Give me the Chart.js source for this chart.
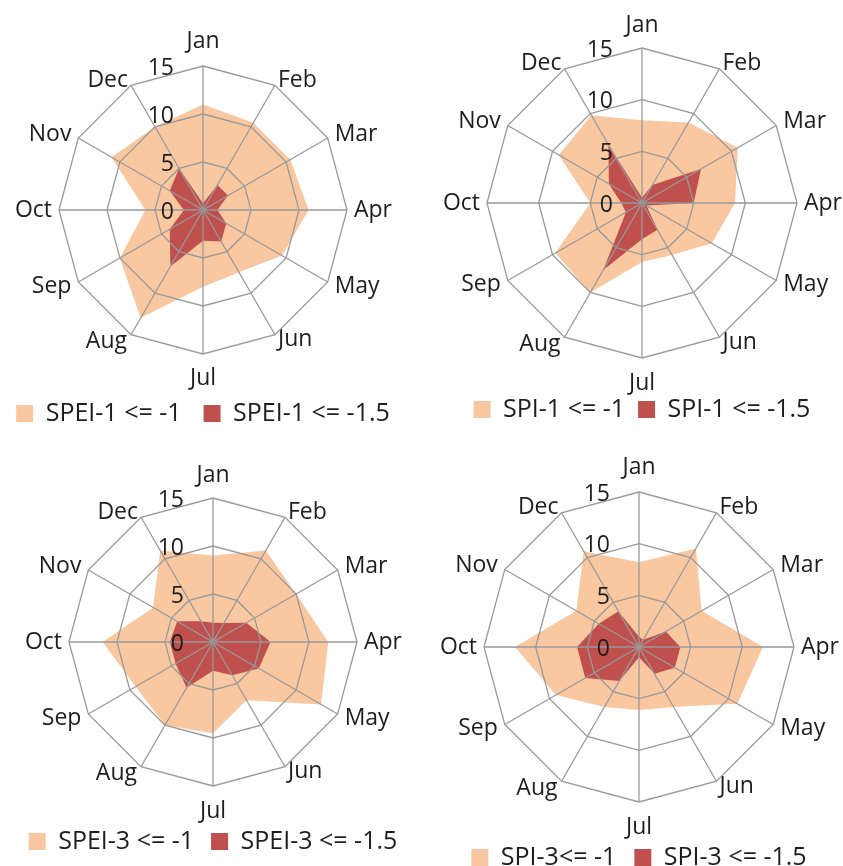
<!DOCTYPE html>
<html>
<head>
<meta charset="utf-8">
<script src="https://cdn.jsdelivr.net/npm/chart.js@4/dist/chart.umd.min.js"></script>
<style>
  html, body { margin: 0; padding: 0; background: #ffffff; }
  body { position: relative; width: 843px; height: 866px; overflow: hidden; }
  canvas { position: absolute; }
</style>
</head>
<body>
<canvas id="spei1"></canvas>
<canvas id="spi1"></canvas>
<canvas id="spei3"></canvas>
<canvas id="spi3"></canvas>
<script>
// Month axes of every radar
const months = ['Jan', 'Feb', 'Mar', 'Apr', 'May', 'Jun', 'Jul', 'Aug', 'Sep', 'Oct', 'Nov', 'Dec'];

// Radial scale range and ring step
const scaleMax = 15;
const ringStep = 5;

// Drought occurrences per month, moderate (<= -1) and severe (<= -1.5)
const spei1Moderate = [11, 10.5, 10.5, 11, 9.5, 7.5, 8, 13, 10, 6, 11, 10];
const spei1Severe   = [0.7, 3, 3, 1.5, 2.8, 3.8, 3.2, 6.8, 4, 2, 4, 5];

const spi1Moderate  = [8, 9, 10.7, 9, 7.8, 5.8, 5.7, 10, 9.7, 5, 9.3, 9.8];
const spi1Severe    = [0.5, 2, 6.6, 5, 0.5, 3, 3.5, 7.5, 1.8, 2, 3.7, 6.5];

const spei3Moderate = [9, 11, 10, 12, 13, 7, 9.5, 10, 9.3, 11.5, 7.2, 11];
const spei3Severe   = [2, 2.3, 4, 6, 5.5, 4, 3, 5.5, 4.5, 4.5, 4.3, 2.5];

const spi3Moderate  = [8.2, 11, 7, 12, 11, 6.7, 6.1, 6.7, 9.3, 12, 7, 10.7];
const spi3Severe    = [1, 0.8, 3, 4, 4, 3, 1, 3.8, 6, 6, 4.5, 4];

// Legend texts
const spei1Names = ['SPEI-1 <= -1', 'SPEI-1 <= -1.5'];
const spi1Names  = ['SPI-1 <= -1', 'SPI-1 <= -1.5'];
const spei3Names = ['SPEI-3 <= -1', 'SPEI-3 <= -1.5'];
const spi3Names  = ['SPI-3<= -1', 'SPI-3 <= -1.5'];

const FONT = '"Open Sans", "DejaVu Sans", sans-serif';
const TEXT = '#1e1e1e';
const GRID = '#999999';
const PEACH = '#f9c8a1';
const RED = '#c0504d';

Chart.defaults.font.family = FONT;
Chart.defaults.color = TEXT;

// Ring values written just left of the Jan spoke
const ringValueLabels = {
  id: 'ringValueLabels',
  afterDraw(chart) {
    const r = chart.scales.r;
    const ctx = chart.ctx;
    ctx.save();
    ctx.font = '23px ' + FONT;
    ctx.fillStyle = TEXT;
    ctx.textAlign = 'right';
    ctx.textBaseline = 'middle';
    r.ticks.forEach(t => {
      const d = r.getDistanceFromCenterForValue(t.value);
      ctx.fillText(t.label, r.xCenter - 29, r.yCenter - d + 2);
    });
    ctx.restore();
  }
};

// Canvas placement of each panel
const panels = [
  { id: 'spei1', left: -17, top: 21,  width: 440, height: 415, legendPad: 22, janPad: 25, julPad: 24, names: spei1Names, moderate: spei1Moderate, severe: spei1Severe },
  { id: 'spi1',  left: 412, top: 4,   width: 460, height: 428, legendPad: 13, janPad: 23, julPad: 25, names: spi1Names,  moderate: spi1Moderate,  severe: spi1Severe },
  { id: 'spei3', left: -7,  top: 454, width: 440, height: 410, legendPad: 17, janPad: 23, julPad: 25, names: spei3Names, moderate: spei3Moderate, severe: spei3Severe },
  { id: 'spi3',  left: 409, top: 447, width: 460, height: 433, legendPad: 18, janPad: 25, julPad: 25, names: spi3Names,  moderate: spi3Moderate,  severe: spi3Severe }
];

panels.forEach(p => {
  const canvas = document.getElementById(p.id);
  canvas.width = p.width;
  canvas.height = p.height;
  canvas.style.left = p.left + 'px';
  canvas.style.top = p.top + 'px';
  canvas.style.width = p.width + 'px';
  canvas.style.height = p.height + 'px';

  const labelPad = [p.janPad, 6, 8, 7, 8, 6, p.julPad, 8, 8, 7, 8, 6];

  new Chart(canvas, {
    type: 'radar',
    data: {
      labels: months,
      datasets: [
        {
          label: p.names[0],
          data: p.moderate,
          backgroundColor: PEACH,
          borderColor: 'rgba(0,0,0,0)',
          borderWidth: 0,
          pointRadius: 0,
          pointHoverRadius: 0,
          fill: true,
          order: 1
        },
        {
          label: p.names[1],
          data: p.severe,
          backgroundColor: RED,
          borderColor: 'rgba(0,0,0,0)',
          borderWidth: 0,
          pointRadius: 0,
          pointHoverRadius: 0,
          fill: true,
          order: 0
        }
      ]
    },
    options: {
      responsive: false,
      animation: false,
      devicePixelRatio: 1,
      layout: { padding: { top: 20, left: 0, right: 0, bottom: 0 } },
      plugins: {
        tooltip: { enabled: false },
        legend: {
          position: 'bottom',
          labels: {
            boxWidth: 17,
            boxHeight: 17,
            padding: p.legendPad,
            color: TEXT,
            font: { size: 25, family: FONT },
            sort: (a, b) => a.datasetIndex - b.datasetIndex
          }
        }
      },
      scales: {
        r: {
          min: 0,
          max: scaleMax,
          ticks: { stepSize: ringStep, display: false },
          grid: { color: GRID, lineWidth: 1.3, circular: false, z: 1 },
          angleLines: { color: GRID, lineWidth: 1.3 },
          pointLabels: {
            color: TEXT,
            font: { size: 23, family: FONT, lineHeight: 0 },
            padding: ctx => labelPad[ctx.index]
          }
        }
      }
    },
    plugins: [ringValueLabels]
  });
});
</script>
</body>
</html>
